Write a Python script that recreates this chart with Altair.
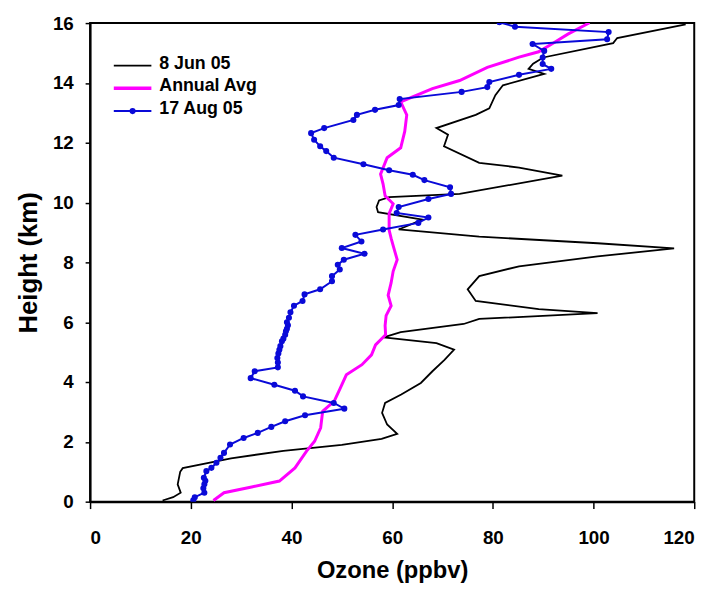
import altair as alt
import pandas as pd

# ---- data ----
jun_ozone = [14.4, 16.5, 18.0, 17.4, 17.9, 18.4, 28.0, 38.4, 50.0, 57.9, 61.0, 59.0, 58.0, 58.6,
             61.8, 65.7, 68.0, 70.4, 72.3, 68.8, 58.3, 61.7, 74.2, 77.3, 100.8, 89.1, 76.6, 75.0,
             77.3, 85.2, 100.8, 116.0, 100.8, 77.3, 61.3, 66.0, 57.2, 56.9, 57.4, 59.4, 73.4, 93.8,
             85.2, 77.3, 70.3, 71.1, 68.8, 76.6, 79.3, 80.5, 82.0, 90.2, 87.1, 88.0, 90.0, 103.9,
             104.7, 118.3]
jun_height = [0.04, 0.15, 0.3, 0.58, 1.0, 1.12, 1.45, 1.7, 1.9, 2.1, 2.27, 2.58, 2.97, 3.3,
              3.58, 3.97, 4.36, 4.74, 5.08, 5.3, 5.49, 5.67, 5.94, 6.11, 6.3, 6.44, 6.71, 7.1,
              7.54, 7.87, 8.2, 8.47, 8.64, 8.86, 9.1, 9.43, 9.68, 9.85, 10.07, 10.18, 10.29, 10.9,
              11.17, 11.33, 11.88, 12.27, 12.49, 12.93, 13.15, 13.59, 13.92, 14.3, 14.47, 14.64, 14.85, 15.33,
              15.5, 15.96]

avg_ozone = [24.5, 26.6, 32.1, 37.6, 40.7, 43.0, 44.6, 45.8, 46.2, 48.5, 49.7, 50.9, 54.0, 55.9,
             56.7, 58.7, 58.6, 58.8, 59.8, 59.2, 59.8, 60.2, 61.0, 60.3, 59.8, 59.4, 59.4, 60.2,
             58.6, 58.2, 57.7, 59.0, 61.7, 62.5, 62.9, 61.7, 68.0, 73.4, 78.9, 85.2, 89.1, 92.2,
             94.9, 99.2]
avg_height = [0.04, 0.3, 0.49, 0.69, 1.13, 1.69, 2.02, 2.47, 3.02, 3.36, 3.8, 4.24, 4.58, 4.91,
              5.24, 5.58, 5.89, 6.22, 6.55, 6.9, 7.32, 7.7, 8.09, 8.5, 8.8, 9.08, 9.63, 9.96,
              10.23, 10.62, 10.95, 11.5, 11.83, 12.38, 12.93, 13.37, 13.81, 14.08, 14.52, 14.86, 15.04, 15.35,
              15.63, 16.01]

aug_ozone = [20.5, 20.8, 22.7, 22.5, 22.7, 22.9, 22.6, 23.1, 24.1, 25.1, 25.9, 26.6, 27.8, 30.5,
             33.3, 36.0, 38.75, 42.7, 50.5, 48.4, 42.3, 40.7, 36.6, 31.9, 32.7, 37.3, 37.3, 37.2,
             37.4, 37.6, 37.8, 38.1, 38.4, 38.75, 38.9, 39.1, 39.3, 39.1, 39.5, 39.8, 40.5, 42.2,
             42.6, 45.7, 48.05, 48.05, 49.6, 49.2, 50.4, 54.5, 50.0, 53.9, 52.7, 58.2, 65.2, 67.2,
             60.9, 61.3, 67.2, 71.7, 71.5, 66.4, 64.1, 59.4, 54.3, 48.4, 46.9, 45.7, 44.5, 43.9,
             46.5, 52.3, 53.0, 56.6, 61.3, 61.5, 73.8, 78.9, 79.3, 85.2, 91.6, 89.9, 89.9, 90.2,
             87.9, 102.7, 103.0, 84.4, 81.3]
aug_height = [0.05, 0.15, 0.3, 0.45, 0.58, 0.7, 0.8, 1.02, 1.13, 1.3, 1.47, 1.63, 1.91, 2.13,
              2.3, 2.5, 2.69, 2.89, 3.11, 3.3, 3.52, 3.71, 3.91, 4.13, 4.36, 4.49, 4.65, 4.8,
              4.95, 5.08, 5.2, 5.36, 5.45, 5.58, 5.7, 5.78, 5.9, 6.0, 6.15, 6.33, 6.55, 6.71,
              6.93, 7.1, 7.37, 7.54, 7.76, 7.92, 8.09, 8.29, 8.48, 8.7, 8.92, 9.1, 9.32, 9.5,
              9.65, 9.85, 10.12, 10.29, 10.51, 10.75, 10.93, 11.08, 11.28, 11.5, 11.72, 11.88, 12.1, 12.32,
              12.49, 12.76, 12.93, 13.1, 13.26, 13.46, 13.7, 13.86, 14.03, 14.27, 14.47, 14.63, 14.85, 15.07,
              15.3, 15.46, 15.7, 15.88, 16.03]

legend_labels = ["8 Jun 05", "Annual Avg", "17 Aug 05"]
x_ticks = [0, 20, 40, 60, 80, 100, 120]
y_ticks = [0, 2, 4, 6, 8, 10, 12, 14, 16]

BLACK = "#000000"
MAGENTA = "#ff00ff"
BLUE = "#0a0ad8"
FONT = "Liberation Sans"


def frame(xs, ys):
    return pd.DataFrame({"ozone": xs, "height": ys, "seq": list(range(len(xs)))})


x_enc = alt.X("ozone:Q", scale=alt.Scale(domain=[0, 120], nice=False),
              axis=alt.Axis(title="Ozone (ppbv)", values=x_ticks, format="d"))
y_enc = alt.Y("height:Q", scale=alt.Scale(domain=[0, 16], nice=False),
              axis=alt.Axis(title="Height (km)", values=y_ticks, format="d"))

black = alt.Chart(frame(jun_ozone, jun_height)).mark_line(
    color=BLACK, strokeWidth=1.8, clip=True).encode(x=x_enc, y=y_enc, order="seq:Q")
magenta = alt.Chart(frame(avg_ozone, avg_height)).mark_line(
    color=MAGENTA, strokeWidth=3, clip=True).encode(x=x_enc, y=y_enc, order="seq:Q")
blue = alt.Chart(frame(aug_ozone, aug_height)).mark_line(
    color=BLUE, strokeWidth=2, clip=True,
    point=alt.OverlayMarkDef(filled=True, size=38, color=BLUE)).encode(
    x=x_enc, y=y_enc, order="seq:Q")

# manual legend (top-left, inside the frame)
leg_colors = [BLACK, MAGENTA, BLUE]
leg_widths = [1.8, 3.5, 2]
leg_y = [43, 66, 89]
legend_layers = []
for lab, col, w, yy in zip(legend_labels, leg_colors, leg_widths, leg_y):
    d = pd.DataFrame({"label": [lab]})
    legend_layers.append(alt.Chart(d).mark_rule(color=col, strokeWidth=w).encode(
        x=alt.value(24), x2=alt.value(62), y=alt.value(yy)))
    legend_layers.append(alt.Chart(d).mark_text(
        align="left", baseline="middle", font=FONT, fontSize=18, fontWeight="bold",
        color="black").encode(x=alt.value(70), y=alt.value(yy - 2), text="label:N"))
legend_layers.append(alt.Chart(pd.DataFrame({"label": [legend_labels[2]]})).mark_point(
    filled=True, size=38, color=BLUE, opacity=1).encode(x=alt.value(43), y=alt.value(leg_y[2])))

chart = alt.layer(black, magenta, blue, *legend_layers).properties(
    width=611, height=484,
    autosize=alt.AutoSizeParams(type="none"),
    padding={"left": 83, "top": 12, "right": 21, "bottom": 80},
).configure_view(
    stroke="black", strokeWidth=2
).configure_axis(
    grid=False, domainColor="black", domainWidth=2, tickColor="black", tickWidth=1.5,
    labelFont=FONT, labelFontSize=19, labelFontWeight="bold", labelColor="black",
    titleFont=FONT, titleFontWeight="bold", titleColor="black",
).configure_axisX(
    tickSize=7, labelPadding=20, titlePadding=12, titleFontSize=24
).configure_axisY(
    tickSize=5, labelPadding=12, titlePadding=11, titleFontSize=26
)

chart.save("out.html", embed_options={"renderer": "svg", "actions": False})
